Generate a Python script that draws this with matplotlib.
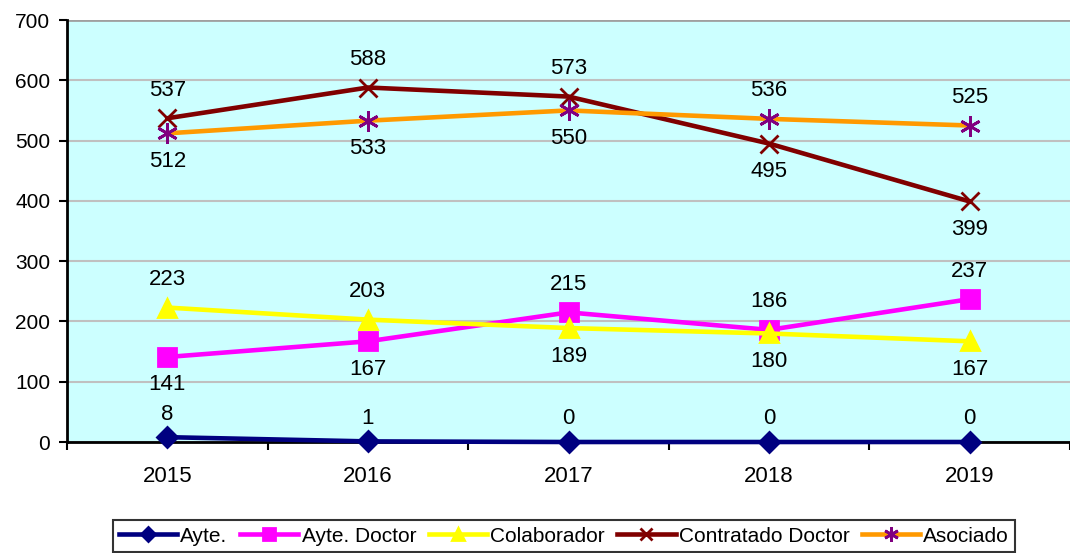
import matplotlib.pyplot as plt
from matplotlib.ticker import FixedLocator

plt.rcParams['font.family'] = ['Liberation Sans', 'DejaVu Sans']

years = ['2015', '2016', '2017', '2018', '2019']
ayte = [8, 1, 0, 0, 0]
ayte_doctor = [141, 167, 215, 186, 237]
colaborador = [223, 203, 189, 180, 167]
contratado = [537, 588, 573, 495, 399]
asociado = [512, 533, 550, 536, 525]

# label placement: +1 above the point, -1 below
pos_ayte = [1, 1, 1, 1, 1]
pos_ayte_doctor = [-1, -1, 1, 1, 1]
pos_colaborador = [1, 1, -1, -1, -1]
pos_contratado = [1, 1, 1, -1, -1]
pos_asociado = [-1, -1, -1, 1, 1]

# name, values, label side, line colour, marker colour, marker, marker size, label gap (px)
series = [
    ('Ayte.', ayte, pos_ayte, '#000080', '#000080', 'D', 10, 23),
    ('Ayte. Doctor', ayte_doctor, pos_ayte_doctor, '#FF00FF', '#FF00FF', 's', 13, 28),
    ('Colaborador', colaborador, pos_colaborador, '#FFFF00', '#FFFF00', '^', 13, 28),
    ('Contratado Doctor', contratado, pos_contratado, '#800000', '#800000', 'x', 13, 28),
    ('Asociado', asociado, pos_asociado, '#FF9900', '#800080', (6, 2, 0), 15, 28),
]

fig = plt.figure(figsize=(10.70, 5.53), dpi=100)
ax = fig.add_axes([67 / 1070, 1 - 442 / 553, 1003 / 1070, 422 / 553])
ax.set_facecolor('#CCFFFF')

x = [i + 0.5 for i in range(len(years))]
handles = []
for name, vals, pos, lc, mc, mk, ms, gap in series:
    h, = ax.plot(x, vals, color=lc, lw=3.3, marker=mk, markersize=ms,
                 markerfacecolor=mc, markeredgecolor=mc, markeredgewidth=2,
                 label=name, zorder=3, clip_on=False)
    handles.append(h)
    for xi, v, p in zip(x, vals, pos):
        ax.annotate(str(v), (xi, v), textcoords='offset pixels',
                    xytext=(0, gap * p), ha='center', va='center',
                    fontsize=16, color='black', zorder=4)

ax.set_xlim(0, len(years))
ax.set_ylim(0, 700)
ax.set_yticks(range(0, 701, 100))
ax.xaxis.set_major_locator(FixedLocator(range(len(years) + 1)))
ax.set_xticklabels([])
ax.xaxis.set_minor_locator(FixedLocator(x))
ax.set_xticklabels(years, minor=True)
ax.tick_params(axis='x', which='minor', length=0, pad=17, labelsize=16)
ax.tick_params(axis='x', which='major', length=6, width=1.5, direction='out')
ax.tick_params(axis='y', length=6, width=1.5, direction='out', labelsize=15, pad=6)

ax.grid(axis='y', color='#C0C0C0', lw=1.5, zorder=0)
ax.set_axisbelow(True)
ax.axhline(700, color='#A0A0A0', lw=2, zorder=1)
for s in ['top', 'right']:
    ax.spines[s].set_visible(False)
for s in ['left', 'bottom']:
    ax.spines[s].set_linewidth(2)
    ax.spines[s].set_color('black')
    ax.spines[s].set_zorder(2.5)

leg = fig.legend(handles=handles, loc='center', bbox_to_anchor=(564 / 1070, 1 - 536 / 553),
                 ncol=5, fontsize=15, frameon=True, fancybox=False,
                 handlelength=2.8, handletextpad=0.15, columnspacing=0.6,
                 borderpad=0.3, markerscale=0.7)
leg.get_frame().set_edgecolor('black')
leg.get_frame().set_linewidth(1.5)

fig.savefig('out.png', dpi=100)
